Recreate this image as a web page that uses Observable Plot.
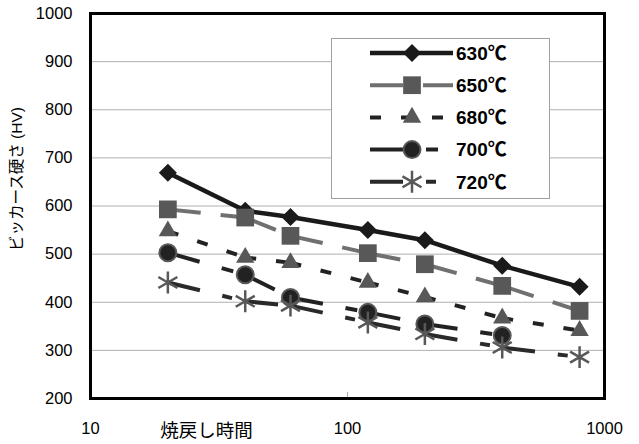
<!DOCTYPE html>
<html><head><meta charset="utf-8">
<script src="https://cdn.jsdelivr.net/npm/d3@7"></script>
<script src="https://cdn.jsdelivr.net/npm/@observablehq/plot@0.6"></script>
<style>
body{margin:0;background:#fff;}
#wrap{position:relative;width:639px;height:444px;}
#wrap svg{position:absolute;left:0;top:0;}
</style></head><body><div id="wrap"></div>
<script>
// ---- data ----
const times = [20, 40, 60, 120, 200, 400, 800];
const seriesNames = ["630℃", "650℃", "680℃", "700℃", "720℃"];
const h630 = [669, 590, 577, 550, 529, 476, 432];
const h650 = [593, 576, 538, 502, 479, 434, 382];
const h680 = [548, 493, 482, 441, 411, 367, 341];
const h700 = [503, 457, 410, 379, 355, 331];
const h720 = [441, 402, 393, 358, 334, 306, 286];
const yTicks = [200, 300, 400, 500, 600, 700, 800, 900, 1000];
const xTicks = [10, 100, 1000];
const yLabel = "ビッカース硬さ (HV)";
const xLabel = "焼戻し時間";

const values = [h630, h650, h680, h700, h720];

// ---- styles ----
const styles = [
  {line:"#1a1a1a", width:4.5, dash:null,          symbol:"square",   r:7.2, fill:"#1a1a1a", stroke:"none", sw:0, rotate:45},
  {line:"#707070", width:4,   dash:"33,20",       symbol:"square",   r:10,  fill:"#585858", stroke:"none", sw:0, rotate:0},
  {line:"#222",    width:4,   dash:"11,20",       symbol:"triangle", r:6.8, fill:"#585858", stroke:"none", sw:0, rotate:0},
  {line:"#222",    width:4,   dash:"33,23,12,23", symbol:"circle",   r:8.5, fill:"#222",    stroke:"#585858", sw:2, rotate:0},
  {line:"#2a2a2a", width:4,   dash:"33,23,10,23", symbol:"asterisk", r:10.4,fill:"none",    stroke:"#585858", sw:2.5, rotate:0}
];

const FONT = "'Liberation Sans','Noto Sans CJK JP',sans-serif";
const fmt = d => String(d);

const marks = [
  Plot.gridY(yTicks, {stroke:"#b0b0b0", strokeOpacity:1, strokeWidth:1}),
  Plot.axisY(yTicks, {tickSize:0, tickPadding:18, fontSize:16.5, label:null, fill:"#000", tickFormat:fmt}),
  Plot.axisX(xTicks, {tickSize:0, tickPadding:24, fontSize:16.5, label:null, fill:"#000", tickFormat:fmt}),
  Plot.axisX([100], {tickSize:-6, text:null, stroke:"#aaa", label:null}),
  Plot.text([yLabel], {text:d=>d, frameAnchor:"left", textAnchor:"middle", lineAnchor:"middle",
    dx:-73, dy:-27, rotate:-90, fontSize:15.5, fill:"#000"}),
  Plot.text([xLabel], {text:d=>d, frameAnchor:"bottom-left", textAnchor:"middle", lineAnchor:"middle",
    dx:116, dy:33, fontSize:18.5, fill:"#000"})
];

values.forEach((vals, i) => {
  const st = styles[i];
  const segs = vals.slice(1).map((v, j) => ({x1: times[j], y1: vals[j], x2: times[j+1], y2: v}));
  marks.push(Plot.link(segs, {x1:"x1", y1:"y1", x2:"x2", y2:"y2", stroke:st.line, strokeWidth:st.width,
    strokeDasharray:st.dash, strokeLinecap:"butt"}));
  const pts = vals.map((v, j) => ({t: times[j], v}));
  marks.push(Plot.dot(pts, {x:"t", y:"v", symbol:st.symbol, r:st.r, fill:st.fill, stroke:st.stroke,
    strokeWidth:st.sw, rotate:st.rotate}));
});

marks.push(Plot.frame({stroke:"#000", strokeWidth:3}));

const chart = Plot.plot({
  width: 639, height: 444,
  marginLeft: 90, marginRight: 35, marginTop: 13, marginBottom: 46,
  style: {fontFamily: FONT, fontSize: "16px", background: "white", color: "black", overflow: "visible"},
  x: {type: "log", domain: [10, 1000]},
  y: {domain: [200, 1000]},
  marks
});
document.getElementById("wrap").appendChild(chart);

// ---- legend (overlay inside the plot frame) ----
const symMap = {square: d3.symbolSquare, triangle: d3.symbolTriangle, circle: d3.symbolCircle, asterisk: d3.symbolAsterisk};
const leg = d3.select("#wrap").append("svg").attr("width", 639).attr("height", 444)
  .style("pointer-events", "none").style("font-family", FONT);
leg.append("rect").attr("x", 331.5).attr("y", 38.5).attr("width", 218).attr("height", 160)
  .attr("fill", "white").attr("stroke", "#a0a0a0").attr("stroke-width", 1);
seriesNames.forEach((name, i) => {
  const st = styles[i];
  const y = 53 + i * 32.2;
  leg.append("line").attr("x1", 370).attr("x2", 453).attr("y1", y).attr("y2", y)
    .attr("stroke", st.line).attr("stroke-width", st.width)
    .attr("stroke-dasharray", st.dash);
  leg.append("path").attr("d", d3.symbol(symMap[st.symbol], Math.PI * st.r * st.r)())
    .attr("transform", `translate(412,${y}) rotate(${st.rotate})`)
    .attr("fill", st.fill).attr("stroke", st.stroke).attr("stroke-width", st.sw);
  leg.append("text").attr("x", 456).attr("y", y).attr("dy", "0.36em")
    .attr("font-size", 19).attr("font-weight", "bold").attr("fill", "#000").text(name);
});
</script></body></html>
